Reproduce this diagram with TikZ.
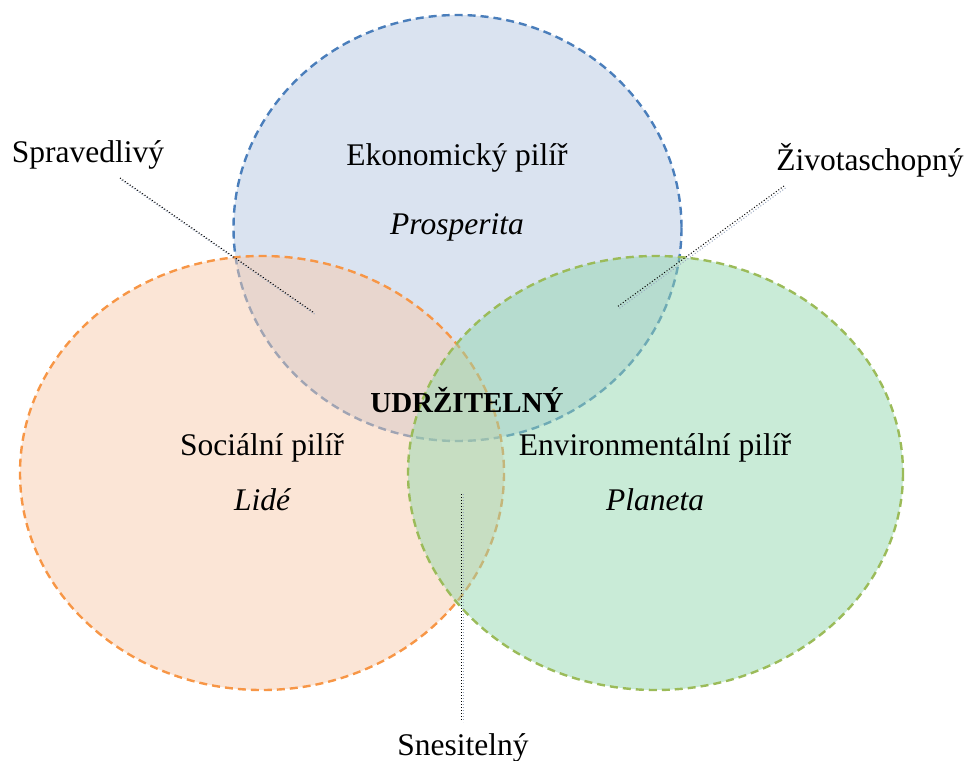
\documentclass[tikz,border=0pt]{standalone}
\usepackage{fontspec}
\setmainfont{Liberation Serif}
\definecolor{ecoline}{HTML}{4A7EBB}
\definecolor{ecofill}{HTML}{B5C7E1}
\definecolor{socline}{HTML}{F79646}
\definecolor{socfill}{HTML}{F7CBAD}
\definecolor{envline}{HTML}{9BBB59}
\definecolor{envfill}{HTML}{93D7AF}
\definecolor{leadgray}{HTML}{9AA8C0}
\begin{document}
\begin{tikzpicture}[x=1pt,y=-1pt,
  pillar/.style={line width=2.4pt, dash pattern=on 8pt off 5pt, fill opacity=0.5},
  lbl/.style={inner sep=0pt, anchor=base, font=\fontsize{31.5}{37}\selectfont},
  leadblack/.style={black, line width=1pt, dotted},
  leadlight/.style={leadgray, line width=1pt, dotted}]
\useasboundingbox (0,0) rectangle (968,760);
% ellipses
\draw[pillar, draw=ecoline, fill=ecofill] (457.5,228) ellipse [x radius=224, y radius=213];
\draw[pillar, draw=socline, fill=socfill] (262,473) ellipse [x radius=242, y radius=217];
\draw[pillar, draw=envline, fill=envfill] (655.5,473) ellipse [x radius=247.5, y radius=217];
% texts
\node[lbl] (eko) at (457,165) {Ekonomický pilíř};
\node[lbl] (pro) at (457,234) {\itshape Prosperita};
\node[lbl] (soc) at (262,455) {Sociální pilíř};
\node[lbl] (lid) at (262,510) {\itshape Lidé};
\node[lbl] (env) at (655,455) {Environmentální pilíř};
\node[lbl] (pla) at (655,510) {\itshape Planeta};
\node[lbl, font=\fontsize{29}{34}\selectfont\bfseries] (udr) at (467,412) {UDRŽITELNÝ};
\node[lbl] (spr) at (88,162) {Spravedlivý};
\node[lbl] (ziv) at (870,170) {Životaschopný};
\node[lbl] (sne) at (463,755) {Snesitelný};
% leader ends
\coordinate (sprA) at (120,178);
\coordinate (sprB) at (313,312);
\coordinate (zivA) at (784,186);
\coordinate (zivB) at (617,307);
\coordinate (sneA) at (461,494);
\coordinate (sneB) at (461,720);
% leaders (black dotted with a light offset twin)
\draw[leadlight] ([shift={(1.5,2)}]sprA) -- ([shift={(1.5,2)}]sprB);
\draw[leadblack] (sprA) -- (sprB);
\draw[leadlight] ([shift={(1.5,2)}]zivA) -- ([shift={(1.5,2)}]zivB);
\draw[leadblack] (zivA) -- (zivB);
\draw[leadlight] ([shift={(2,0)}]sneA) -- ([shift={(2,2)}]sneB);
\draw[leadblack] (sneA) -- (sneB);
\end{tikzpicture}
\end{document}
